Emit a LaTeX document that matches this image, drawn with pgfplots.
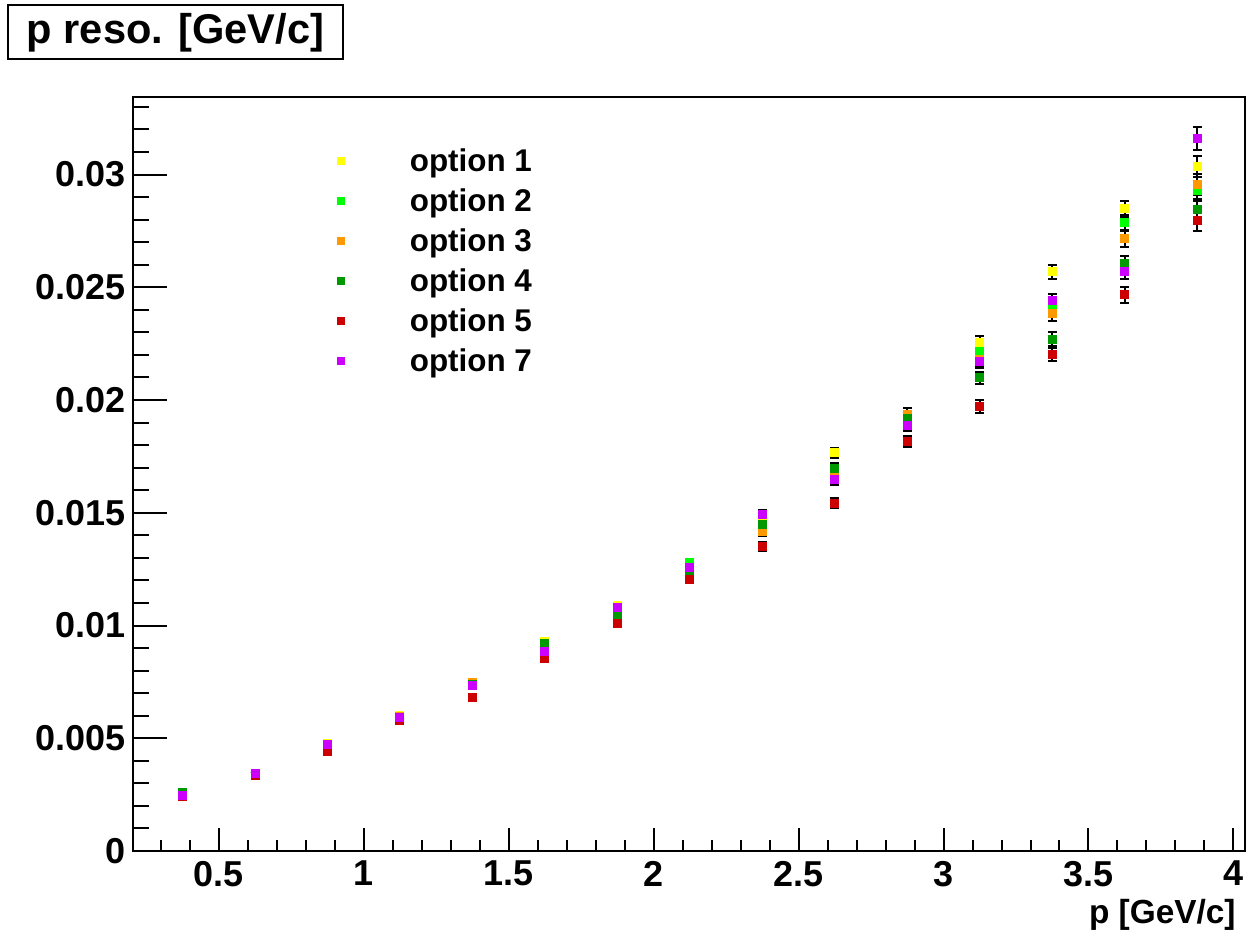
\documentclass[border=0pt]{standalone}
\usepackage{pgfplots}
\pgfplotsset{compat=1.18}
\usepackage{fontspec}
\setmainfont{Liberation Sans}
\definecolor{c1}{RGB}{255,255,0}
\definecolor{c2}{RGB}{0,255,0}
\definecolor{c3}{RGB}{255,153,0}
\definecolor{c4}{RGB}{0,153,0}
\definecolor{c5}{RGB}{204,0,0}
\definecolor{c7}{RGB}{204,0,255}
\pgfplotsset{
  myleg/.style={legend image code/.code={\path[draw=none, fill=none] (0pt,0pt) rectangle (8pt,1pt); \draw[##1, mark size=1.75pt] plot coordinates {(4pt,1.5pt)};}},
  ser/.style={only marks, mark=square*, mark size=2pt, color=#1, mark options={draw=#1, fill=#1, line width=0pt},
    error bars/.cd, y dir=both, y explicit, error mark=|, error bar style={black, line width=1pt},
    error mark options={black, line width=1pt, mark size=2.25pt}, /pgfplots/.cd},
  common/.style={at={(66.5pt,41.5pt)}, anchor=south west, scale only axis, width=556pt, height=377pt,
    xmin=0.204, xmax=4.04, ymin=0, ymax=0.03344, tick align=inside, axis line style={line width=1pt},
    every tick/.style={black, line width=1pt},
    tick label style={font=\fontsize{18}{18}\selectfont\bfseries, /pgf/number format/assume math mode=true},
    scaled ticks=false, clip=false}
}
\pgfplotstableread{
x y e
0.375 0.00253 0.00003
0.625 0.00342 0.00004
0.875 0.00475 0.00005
1.125 0.00603 0.00006
1.375 0.00742 0.00008
1.625 0.00931 0.00010
1.875 0.01087 0.00012
2.125 0.01261 0.00014
2.375 0.01459 0.00020
2.625 0.01766 0.00023
2.875 0.01923 0.00025
3.125 0.02256 0.00028
3.375 0.02569 0.00031
3.625 0.02849 0.00035
3.875 0.03036 0.00045
}\optA
\pgfplotstableread{
x y e
0.375 0.00253 0.00003
0.625 0.00342 0.00004
0.875 0.00472 0.00005
1.125 0.00597 0.00006
1.375 0.00742 0.00008
1.625 0.00920 0.00010
1.875 0.01078 0.00012
2.125 0.01280 0.00014
2.375 0.01449 0.00020
2.625 0.01691 0.00023
2.875 0.01918 0.00025
3.125 0.02217 0.00028
3.375 0.02417 0.00031
3.625 0.02787 0.00035
3.875 0.02928 0.00045
}\optB
\pgfplotstableread{
x y e
0.375 0.00253 0.00003
0.625 0.00342 0.00004
0.875 0.00472 0.00005
1.125 0.00597 0.00006
1.375 0.00749 0.00008
1.625 0.00915 0.00010
1.875 0.01073 0.00012
2.125 0.01256 0.00014
2.375 0.01419 0.00020
2.625 0.01670 0.00023
2.875 0.01938 0.00025
3.125 0.02180 0.00028
3.375 0.02383 0.00031
3.625 0.02715 0.00035
3.875 0.02956 0.00045
}\optC
\pgfplotstableread{
x y e
0.375 0.00258 0.00003
0.625 0.00342 0.00004
0.875 0.00470 0.00005
1.125 0.00594 0.00006
1.375 0.00737 0.00008
1.625 0.00921 0.00010
1.875 0.01050 0.00012
2.125 0.01231 0.00014
2.375 0.01446 0.00020
2.625 0.01696 0.00023
2.875 0.01918 0.00025
3.125 0.02098 0.00028
3.375 0.02269 0.00031
3.625 0.02605 0.00035
3.875 0.02846 0.00045
}\optD
\pgfplotstableread{
x y e
0.375 0.00240 0.00003
0.625 0.00335 0.00004
0.875 0.00443 0.00005
1.125 0.00581 0.00006
1.375 0.00682 0.00008
1.625 0.00856 0.00010
1.875 0.01011 0.00012
2.125 0.01206 0.00014
2.375 0.01350 0.00020
2.625 0.01543 0.00023
2.875 0.01817 0.00025
3.125 0.01970 0.00028
3.375 0.02202 0.00031
3.625 0.02467 0.00035
3.875 0.02795 0.00045
}\optE
\pgfplotstableread{
x y e
0.375 0.00246 0.00003
0.625 0.00342 0.00004
0.875 0.00474 0.00005
1.125 0.00591 0.00006
1.375 0.00736 0.00008
1.625 0.00885 0.00010
1.875 0.01080 0.00012
2.125 0.01257 0.00014
2.375 0.01494 0.00020
2.625 0.01648 0.00023
2.875 0.01888 0.00025
3.125 0.02172 0.00028
3.375 0.02441 0.00031
3.625 0.02570 0.00035
3.875 0.03160 0.00050
}\optG
\begin{document}
\begin{tikzpicture}
\useasboundingbox (0,0) rectangle (625.5pt,467pt);
\draw[line width=1pt] (4pt,437.5pt) rectangle (171.5pt,464.5pt);
\node[anchor=base, inner sep=0pt, font=\fontsize{20.8}{24}\selectfont\bfseries] at (87.75pt,445.25pt) {p reso. [GeV/c]};
% y ticks axis
\begin{axis}[common,
  xtick=\empty, ytick={0,0.005,...,0.031}, minor ytick={0,0.001,...,0.0335},
  ytick pos=left, major tick length=17pt, minor tick length=8pt,
  yticklabel style={/pgf/number format/fixed, /pgf/number format/precision=3, inner xsep=3.3pt}]
\end{axis}
% main axis with x ticks and data
\begin{axis}[common,
  ytick=\empty, xtick={0.5,1,...,4}, minor xtick={0.3,0.4,...,4.0},
  xtick pos=bottom, major tick length=11.5pt, minor tick length=5.5pt,
  xticklabel style={/pgf/number format/fixed, yshift=-1.5pt},
  xlabel={p [GeV/c]},
  xlabel style={at={(axis description cs:1,0)}, anchor=north east, inner sep=0pt, yshift=-24pt, xshift=-4.5pt, font=\fontsize{16.7}{20}\selectfont\bfseries},
  legend cell align=left,
  legend style={at={(axis description cs:0.1797,0.9383)}, anchor=north west, draw=none, fill=none, inner sep=0pt, outer sep=0pt,
    font=\fontsize{15.7}{18}\selectfont\bfseries,
    nodes={text height=11pt, text depth=3pt, inner ysep=3pt, inner xsep=5pt},
    /tikz/every odd column/.append style={column sep=25.5pt}},
]
\addplot[ser=c1, myleg] table[x=x, y=y, y error=e] {\optA};
\addlegendentry{option 1}
\addplot[ser=c2, myleg] table[x=x, y=y, y error=e] {\optB};
\addlegendentry{option 2}
\addplot[ser=c3, myleg] table[x=x, y=y, y error=e] {\optC};
\addlegendentry{option 3}
\addplot[ser=c4, myleg] table[x=x, y=y, y error=e] {\optD};
\addlegendentry{option 4}
\addplot[ser=c5, myleg] table[x=x, y=y, y error=e] {\optE};
\addlegendentry{option 5}
\addplot[ser=c7, myleg] table[x=x, y=y, y error=e] {\optG};
\addlegendentry{option 7}
\end{axis}
\end{tikzpicture}
\end{document}
